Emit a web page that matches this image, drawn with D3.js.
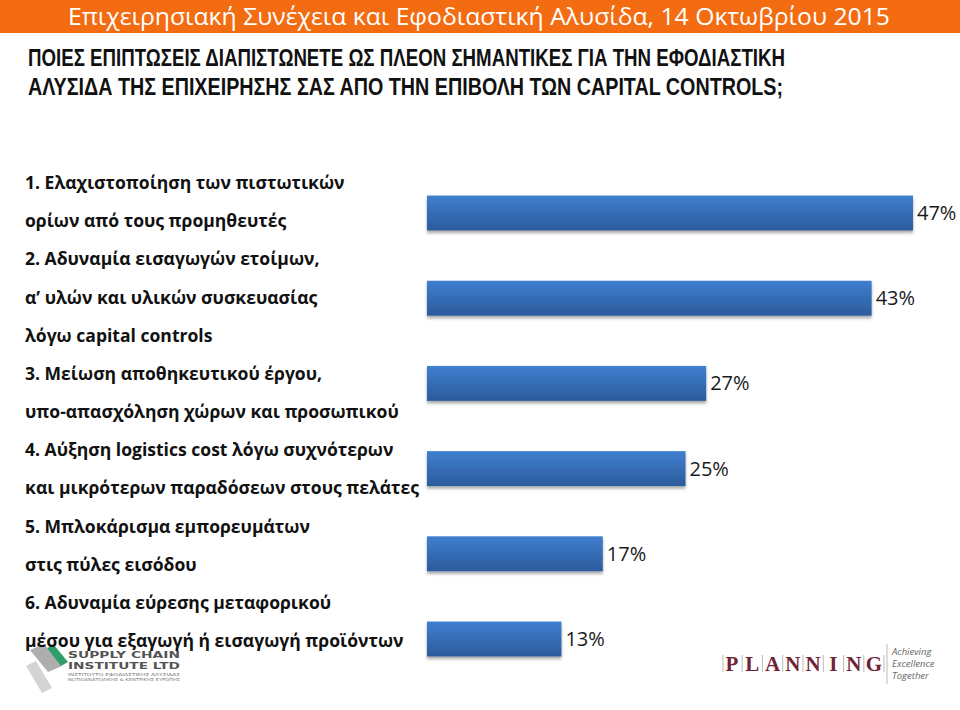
<!DOCTYPE html>
<html><head><meta charset="utf-8">
<script src="https://cdn.jsdelivr.net/npm/d3@7"></script>
<style>
html,body{margin:0;padding:0;background:#fff;}
svg{display:block;}
</style></head>
<body>
<svg id="chart" width="960" height="710"></svg>
<script>
const headerTitle = "Επιχειρησιακή Συνέχεια και Εφοδιαστική Αλυσίδα, 14 Οκτωβρίου 2015";
const questionLines = [
  "ΠΟΙΕΣ ΕΠΙΠΤΩΣΕΙΣ ΔΙΑΠΙΣΤΩΝΕΤΕ ΩΣ ΠΛΕΟΝ ΣΗΜΑΝΤΙΚΕΣ ΓΙΑ ΤΗΝ ΕΦΟΔΙΑΣΤΙΚΗ",
  "ΑΛΥΣΙΔΑ ΤΗΣ ΕΠΙΧΕΙΡΗΣΗΣ ΣΑΣ ΑΠΟ ΤΗΝ ΕΠΙΒΟΛΗ ΤΩΝ CAPITAL CONTROLS;"
];
const categories = ["1", "2", "3", "4", "5", "6"];
const categoryLines = [
  ["1. Ελαχιστοποίηση των πιστωτικών", "ορίων από τους προμηθευτές"],
  ["2. Αδυναμία εισαγωγών ετοίμων,", "α’ υλών και υλικών συσκευασίας", "λόγω capital controls"],
  ["3. Μείωση αποθηκευτικού έργου,", "υπο-απασχόληση χώρων και προσωπικού"],
  ["4. Αύξηση logistics cost λόγω συχνότερων", "και μικρότερων παραδόσεων στους πελάτες"],
  ["5. Μπλοκάρισμα εμπορευμάτων", "στις πύλες εισόδου"],
  ["6. Αδυναμία εύρεσης μεταφορικού", "μέσου για εξαγωγή ή εισαγωγή προϊόντων"]
];
const values = [47, 43, 27, 25, 17, 13];
const valueLabels = ["47%", "43%", "27%", "25%", "17%", "13%"];

const svg = d3.select("#chart");
const defs = svg.append("defs");
const grad = defs.append("linearGradient").attr("id","barGrad").attr("x1",0).attr("y1",0).attr("x2",0).attr("y2",1);
grad.append("stop").attr("offset","0%").attr("stop-color","#3F7FD0");
grad.append("stop").attr("offset","100%").attr("stop-color","#2B5B9B");
const sh = defs.append("filter").attr("id","shadow").attr("x","-5%").attr("y","-20%").attr("width","110%").attr("height","160%");
sh.append("feDropShadow").attr("dx",0).attr("dy",2.5).attr("stdDeviation",1.6).attr("flood-color","#000").attr("flood-opacity",0.35);

// Header
svg.append("rect").attr("x",0).attr("y",0).attr("width",960).attr("height",33).attr("fill","#F36C12");
svg.append("text").attr("x",68).attr("y",25).attr("fill","#fff")
  .attr("font-family","'Open Sans', sans-serif").attr("font-size",23)
  .attr("textLength",822).attr("lengthAdjust","spacingAndGlyphs").text(headerTitle);

// Question
svg.selectAll("text.q").data(questionLines).join("text").attr("class","q")
  .attr("x",28).attr("y",(d,i)=>66+i*29)
  .attr("font-family","'Liberation Sans Narrow','Liberation Sans', sans-serif").attr("font-weight","bold")
  .attr("font-size",24).attr("fill","#111")
  .attr("textLength",(d,i)=>i===0?757:755).attr("lengthAdjust","spacingAndGlyphs")
  .text(d=>d);

// Supply chain logo (drawn under text)
const lg = svg.append("g").attr("class","logo-sci");
lg.append("path").attr("d","M30,650 L44,644 L62,666 L48,672 Z").attr("fill","#9a9a9a").attr("opacity",0.8);
lg.append("path").attr("d","M26,666 L36,661 L52,688 L42,693 Z").attr("fill","#c9c9c9").attr("opacity",0.8);
lg.append("path").attr("d","M47,648 L54,645 L68,662 L61,666 Z").attr("fill","#2E9E6B");
lg.append("text").attr("x",68).attr("y",658).attr("font-family","'DejaVu Sans', sans-serif").attr("font-weight","bold")
  .attr("font-size",9).attr("fill","#555").attr("textLength",112).attr("lengthAdjust","spacingAndGlyphs").text("SUPPLY CHAIN");
lg.append("text").attr("x",68).attr("y",669).attr("font-family","'DejaVu Sans', sans-serif").attr("font-weight","bold")
  .attr("font-size",9).attr("fill","#555").attr("textLength",112).attr("lengthAdjust","spacingAndGlyphs").text("INSTITUTE LTD");
lg.append("text").attr("x",68).attr("y",676).attr("font-family","'DejaVu Sans', sans-serif")
  .attr("font-size",4).attr("fill","#777").attr("textLength",112).attr("lengthAdjust","spacingAndGlyphs").text("ΙΝΣΤΙΤΟΥΤΟ ΕΦΟΔΙΑΣΤΙΚΗΣ ΑΛΥΣΙΔΑΣ");
lg.append("text").attr("x",68).attr("y",681).attr("font-family","'DejaVu Sans', sans-serif")
  .attr("font-size",4).attr("fill","#777").attr("textLength",112).attr("lengthAdjust","spacingAndGlyphs").text("ΝΟΤΙΟΑΝΑΤΟΛΙΚΗΣ & ΚΕΝΤΡΙΚΗΣ ΕΥΡΩΠΗΣ");

// Scales
const x = d3.scaleLinear().domain([0, 47]).range([427, 913]);
const y = d3.scaleBand().domain(categories).range([170.4, 681.6]).paddingInner(0.59).paddingOuter(0.295);

// Bars
svg.append("g").selectAll("rect").data(values).join("rect")
  .attr("x", x(0)).attr("y",(d,i)=>y(categories[i]))
  .attr("width", d=>x(d)-x(0)).attr("height", y.bandwidth())
  .attr("fill","url(#barGrad)").attr("filter","url(#shadow)");

// Value labels
svg.append("g").selectAll("text").data(values).join("text")
  .attr("x", d=>x(d)+4).attr("y",(d,i)=>y(categories[i])+y.bandwidth()/2)
  .attr("dy","0.35em").attr("font-family","'Open Sans', sans-serif").attr("font-size",20)
  .attr("fill","#1a1a1a").text((d,i)=>valueLabels[i]);

// Category label lines
const flat = categoryLines.flat();
const ly = d3.scalePoint().domain(d3.range(flat.length)).range([189, 647]);
const catG = svg.append("g");
const lines = catG.selectAll("text").data(flat).join("text")
  .attr("x",25).attr("y",(d,i)=>ly(i))
  .attr("font-family","'Open Sans', sans-serif").attr("font-weight","bold").attr("font-size",18)
  .attr("fill","#111").text(d=>d);
let maxLen = 0;
lines.each(function(){ maxLen = Math.max(maxLen, this.getComputedTextLength()); });
const k = 394 / maxLen;
lines.each(function(){ const L = this.getComputedTextLength(); d3.select(this).attr("textLength", L*k).attr("lengthAdjust","spacingAndGlyphs"); });

// PLANNING logo
const pg = svg.append("g");
const letters = "PLANNING".split("");
const px = d3.scalePoint().domain(d3.range(letters.length)).range([732, 874]);
pg.selectAll("text").data(letters).join("text")
  .attr("x",(d,i)=>px(i)).attr("y",671).attr("text-anchor","middle")
  .attr("font-family","'Liberation Serif', serif").attr("font-weight","bold").attr("font-size",21)
  .attr("fill","#6E2436").text(d=>d);
pg.selectAll("line.sep").data(d3.range(letters.length+1)).join("line").attr("class","sep")
  .attr("x1",i=>i===0?723:(i===letters.length?884:(px(i-1)+px(i))/2))
  .attr("x2",i=>i===0?723:(i===letters.length?884:(px(i-1)+px(i))/2))
  .attr("y1",655).attr("y2",672).attr("stroke","#bbb").attr("stroke-width",1);
pg.append("line").attr("x1",887).attr("x2",887).attr("y1",644).attr("y2",684).attr("stroke","#bbb");
["Achieving","Excellence","Together"].forEach((t,i)=>{
  pg.append("text").attr("x",892).attr("y",655+i*12).attr("font-family","'Open Sans', sans-serif")
    .attr("font-style","italic").attr("font-size",9.5).attr("fill","#666").text(t);
});
</script>
</body></html>
